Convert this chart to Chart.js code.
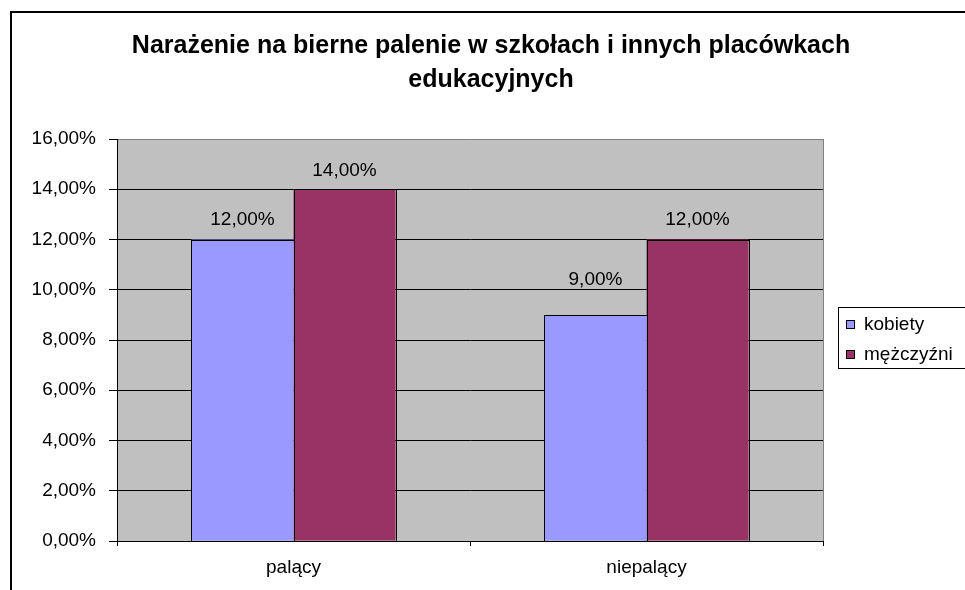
<!DOCTYPE html>
<html>
<head>
<meta charset="utf-8">
<script src="https://cdn.jsdelivr.net/npm/chart.js@4"></script>
<style>
  html, body { margin: 0; padding: 0; background: #fff; }
  #wrap { width: 965px; height: 590px; }
</style>
</head>
<body>
<div id="wrap"><canvas id="grafico" width="965" height="590"></canvas></div>
<script>
const tytul = ["Narażenie na bierne palenie w szkołach i innych placówkach", "edukacyjnych"];
const kategorie = ["palący", "niepalący"];
const kobiety = [12, 9];
const mezczyzni = [14, 12];
const serie = ["kobiety", "mężczyźni"];
const kolory = ["#9999FF", "#993366"];
const osY = { min: 0, max: 16, krok: 2 };

const FONT = '"Liberation Sans", Arial, sans-serif';

function procent(v) {
  return v.toFixed(2).replace(".", ",") + "%";
}

// tło obszaru wykresu, ramka, tytuł, etykiety i legenda
const dodatki = {
  id: "dodatki",
  beforeDraw(chart) {
    const { ctx, chartArea: a } = chart;
    ctx.save();
    ctx.fillStyle = "#C0C0C0";
    ctx.fillRect(a.left, a.top, a.right - a.left, a.bottom - a.top);
    ctx.restore();
  },
  afterDatasetsDraw(chart) {
    const { ctx, chartArea: a } = chart;
    ctx.save();
    // prawa krawędź obszaru wykresu
    ctx.strokeStyle = "#808080";
    ctx.lineWidth = 1;
    ctx.beginPath();
    ctx.moveTo(a.right + 0.5, a.top);
    ctx.lineTo(a.right + 0.5, a.bottom);
    ctx.stroke();

    // obrysy słupków (ostre linie)
    ctx.strokeStyle = "#000";
    chart.data.datasets.forEach((ds, d) => {
      chart.getDatasetMeta(d).data.forEach((bar) => {
        const x0 = Math.round(bar.x - bar.width / 2) + 0.5;
        const x1 = Math.round(bar.x + bar.width / 2) + 0.5;
        const y0 = Math.round(bar.y) + 0.5;
        const y1 = Math.round(bar.base) + 0.5;
        ctx.strokeRect(x0, y0, x1 - x0, y1 - y0);
      });
    });

    // etykiety danych
    const uniesienie = [[20, 35], [18, 20]];
    ctx.fillStyle = "#000";
    ctx.font = "19px " + FONT;
    ctx.textAlign = "center";
    ctx.textBaseline = "middle";
    chart.data.datasets.forEach((ds, d) => {
      chart.getDatasetMeta(d).data.forEach((bar, i) => {
        ctx.fillText(procent(ds.data[i]), bar.x, bar.y - uniesienie[d][i]);
      });
    });

    // tytuł
    ctx.font = "bold 25px " + FONT;
    ctx.fillText(tytul[0], 491, 46);
    ctx.fillText(tytul[1], 491, 80);

    // legenda
    ctx.lineWidth = 1;
    ctx.strokeRect(838.5, 307.5, 200, 61);
    ctx.font = "19px " + FONT;
    ctx.textAlign = "left";
    serie.forEach((s, i) => {
      const y = 320 + i * 30;
      ctx.fillStyle = kolory[i];
      ctx.fillRect(846, y, 8, 8);
      ctx.strokeRect(846.5, y + 0.5, 8, 8);
      ctx.fillStyle = "#000";
      ctx.fillText(s, 864, y + 5);
    });

    // ramka całości
    ctx.lineWidth = 2;
    ctx.strokeRect(11, 12, 1000, 1000);
    ctx.restore();
  }
};

new Chart(document.getElementById("grafico"), {
  type: "bar",
  data: {
    labels: kategorie,
    datasets: [
      { label: serie[0], data: kobiety, backgroundColor: kolory[0], borderWidth: 0 },
      { label: serie[1], data: mezczyzni, backgroundColor: kolory[1], borderWidth: 0 }
    ]
  },
  options: {
    responsive: false,
    animation: false,
    events: [],
    layout: { padding: { left: 0, top: 139, right: 142, bottom: 0 } },
    datasets: {
      bar: {
        categoryPercentage: 0.578,
        barPercentage: 1
      }
    },
    plugins: {
      legend: { display: false },
      title: { display: false },
      tooltip: { enabled: false }
    },
    scales: {
      x: {
        afterFit(s) { s.height = 49; },
        grid: { drawOnChartArea: false, drawTicks: true, tickLength: 5, tickColor: "#000", offset: true },
        border: { color: "#000", width: 1 },
        ticks: { color: "#000", font: { family: FONT, size: 19 }, padding: 10 }
      },
      y: {
        min: osY.min,
        max: osY.max,
        afterFit(s) { s.width = 117; },
        grid: {
          color: (c) => (c.tick && c.tick.value === osY.max ? "#808080" : "#000"),
          tickColor: "#000",
          tickLength: 8,
          lineWidth: 1
        },
        border: { color: "#000", width: 1 },
        ticks: {
          stepSize: osY.krok,
          color: "#000",
          font: { family: FONT, size: 19 },
          padding: 13,
          callback: (v) => procent(v)
        }
      }
    }
  },
  plugins: [dodatki]
});
</script>
</body>
</html>
